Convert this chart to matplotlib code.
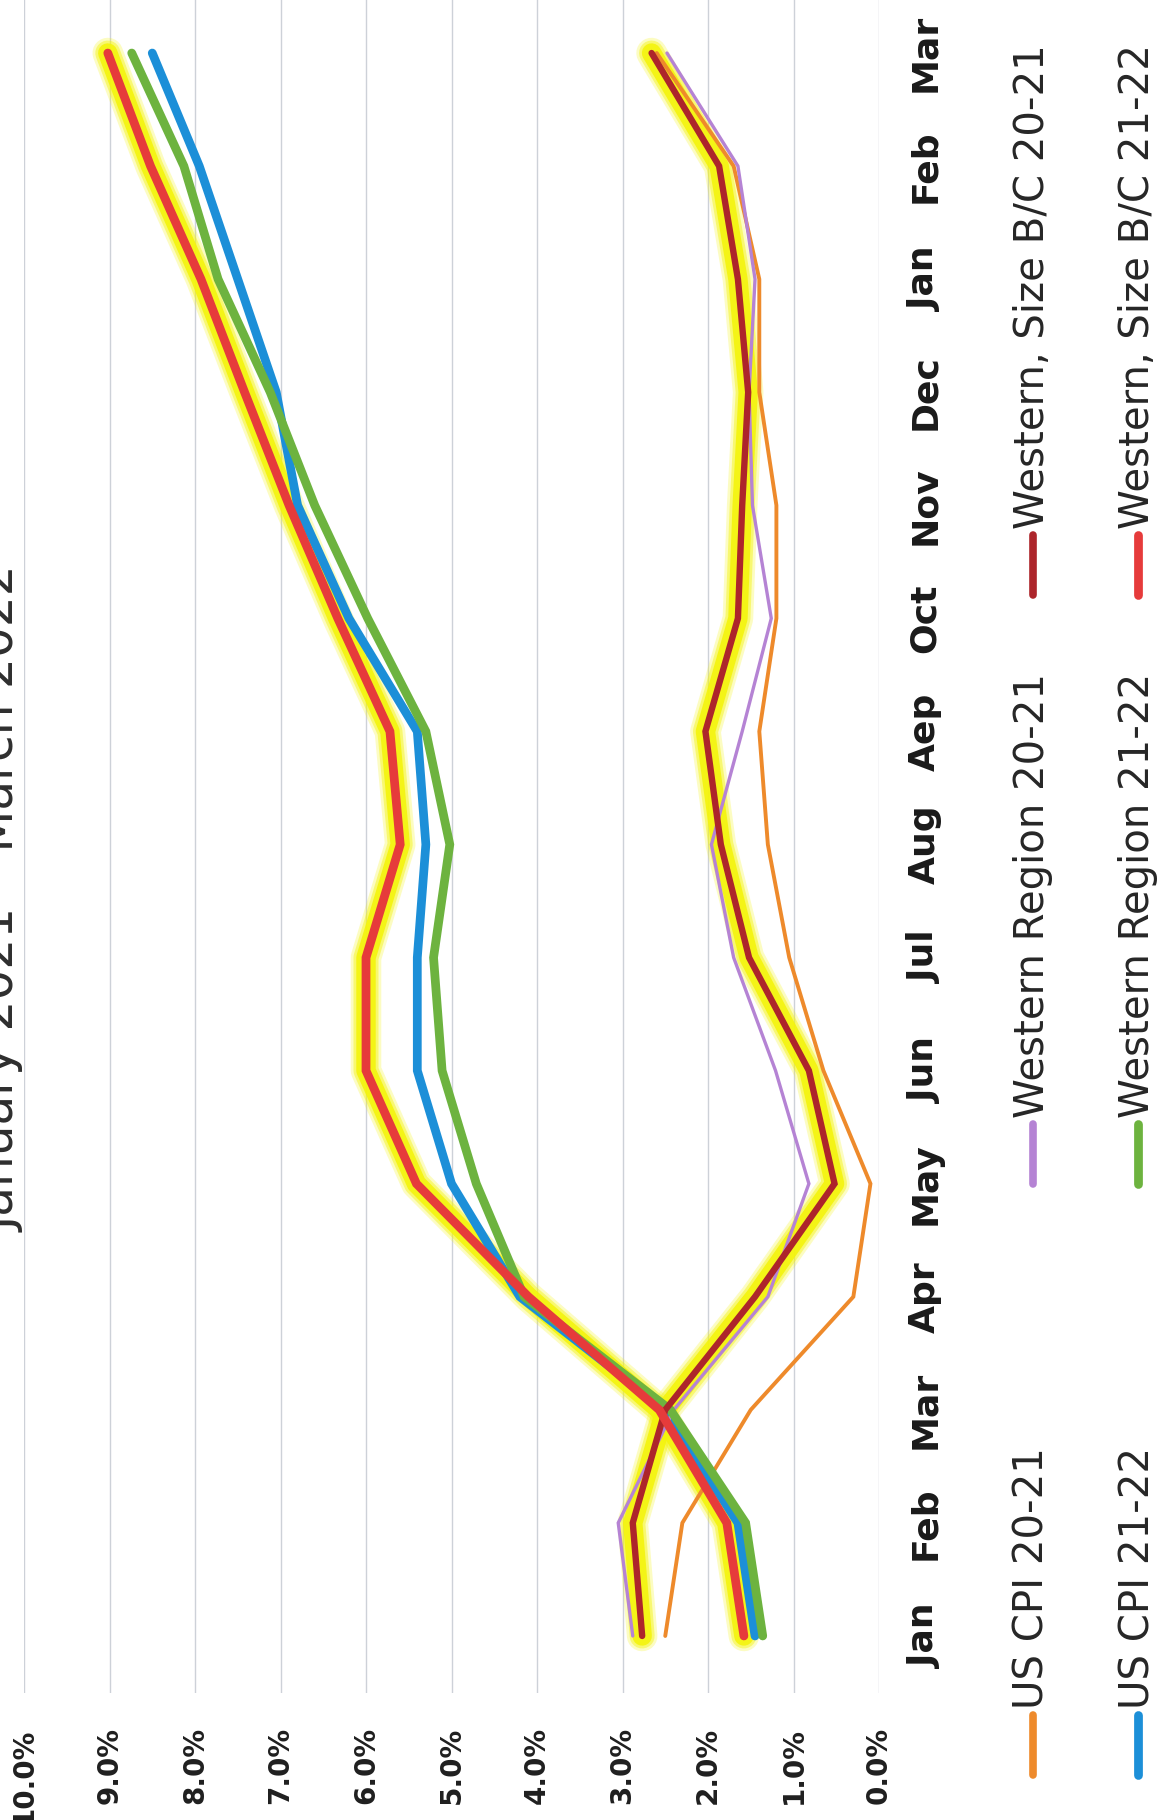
import matplotlib
matplotlib.use("Agg")
import matplotlib.pyplot as plt
from matplotlib.lines import Line2D
import numpy as np

# ---- data -------------------------------------------------------------
months = ["Jan", "Feb", "Mar", "Apr", "May", "Jun", "Jul", "Aug", "Aep",
          "Oct", "Nov", "Dec", "Jan", "Feb", "Mar"]
pct_ticks = [0, 1, 2, 3, 4, 5, 6, 7, 8, 9, 10]

us_cpi_20_21 = [2.5, 2.3, 1.5, 0.3, 0.1, 0.65, 1.05, 1.3, 1.4, 1.2, 1.2, 1.4, 1.4, 1.7, 2.6]
us_cpi_21_22 = [1.45, 1.65, 2.5, 4.2, 5.0, 5.4, 5.4, 5.3, 5.4, 6.2, 6.8, 7.05, 7.5, 7.95, 8.5]
west_20_21 = [2.88, 3.05, 2.4, 1.3, 0.82, 1.21, 1.7, 1.96, 1.6, 1.26, 1.48, 1.52, 1.45, 1.65, 2.48]
west_21_22 = [1.36, 1.56, 2.44, 4.15, 4.71, 5.11, 5.21, 5.02, 5.3, 5.98, 6.6, 7.12, 7.73, 8.13, 8.74]
west_bc_20_21 = [2.77, 2.88, 2.5, 1.45, 0.52, 0.82, 1.52, 1.85, 2.03, 1.65, 1.6, 1.53, 1.65, 1.87, 2.66]
west_bc_21_22 = [1.58, 1.78, 2.57, 4.1, 5.41, 6.0, 6.0, 5.6, 5.72, 6.33, 6.9, 7.42, 7.93, 8.52, 9.02]

title = "January 2021 \u2013 March 2022"

# (label, values, colour, line width, highlighted)
series = [
    ("US CPI 20-21", us_cpi_20_21, "#ee8a2b", 2.8, False),
    ("US CPI 21-22", us_cpi_21_22, "#1c8fd8", 6.3, False),
    ("Western Region 20-21", west_20_21, "#b583d4", 2.4, False),
    ("Western Region 21-22", west_21_22, "#6db33f", 6.3, False),
    ("Western, Size B/C 20-21", west_bc_20_21, "#ad252b", 4.6, True),
    ("Western, Size B/C 21-22", west_bc_21_22, "#e63b3b", 6.3, True),
]

# ---- figure (portrait page, chart turned on its side) -----------------
W, H = 1173, 1820
fig = plt.figure(figsize=(W / 100, H / 100), dpi=100)
fig.patch.set_facecolor("white")


def fx(px):
    return px / W


def fy(py):
    return 1 - py / H


ax_left, ax_right, ax_top, ax_bottom = 24, 879, -3.5, 1692.5
ax = fig.add_axes([fx(ax_left), fy(ax_bottom),
                   (ax_right - ax_left) / W, (ax_bottom - ax_top) / H])
ax.set_facecolor("white")

idx = np.arange(len(months))
ax.set_xlim(10, 0)
ax.set_ylim(-0.5, len(months) - 0.5)
for sp in ax.spines.values():
    sp.set_visible(False)

ax.set_xticks(pct_ticks)
ax.set_xticklabels([f"{v:.1f}%" for v in pct_ticks], rotation=90,
                   fontsize=20, fontweight="bold", color="#1f1f1f")
ax.tick_params(axis="x", length=0, pad=25)
ax.grid(axis="x", color="#cdd1d8", lw=1.0)
ax.grid(axis="y", visible=False)
ax.set_axisbelow(True)

ax.set_yticks(idx)
ax.set_yticklabels(months, rotation=90, va="center",
                   fontsize=26, fontweight="bold", color="#1a1a1a")
ax.yaxis.tick_right()
ax.tick_params(axis="y", length=0, pad=21)

# yellow highlighter behind the Size B/C series
for label, vals, color, lw, hl in series:
    if hl:
        for glow_w, glow_a in [(22, 0.25), (18, 0.45), (14, 0.9)]:
            ax.plot(vals, idx, color="#f4f40c", lw=glow_w, alpha=glow_a,
                    solid_capstyle="round", solid_joinstyle="round", zorder=1)

for label, vals, color, lw, hl in series:
    ax.plot(vals, idx, color=color, lw=lw, solid_capstyle="round",
            solid_joinstyle="miter", zorder=3)

# ---- legend, laid out in two columns -----------------------------------
col_x = [1033, 1138]
row_bottom = [1775, 1184, 595]
handle_len = 60
for i, (label, vals, color, lw, hl) in enumerate(series):
    cx = col_x[i % 2]
    yb = row_bottom[i // 2]
    fig.add_artist(Line2D([fx(cx), fx(cx)], [fy(yb), fy(yb - handle_len)],
                          transform=fig.transFigure, color=color,
                          lw=max(lw, 5.5), solid_capstyle="round"))
    fig.text(fx(cx), fy(yb - handle_len - 6), label, rotation=90,
             rotation_mode="anchor", ha="left", va="center",
             fontsize=29, color="#262626")

# ---- title, running up the left edge ----------------------------------
fig.text(fx(16), fy(899), title, rotation=90, rotation_mode="anchor",
         ha="center", va="baseline", fontsize=35, color="#2e2e2e")

fig.savefig("out.png", dpi=100, facecolor="white")
